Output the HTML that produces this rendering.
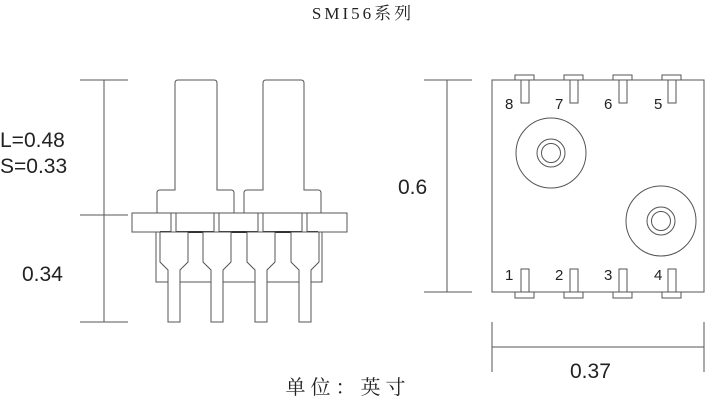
<!DOCTYPE html>
<html><head><meta charset="utf-8"><style>
body{margin:0;background:#fff;width:706px;height:401px;overflow:hidden}
svg{display:block}
.t{font-family:"Liberation Sans","DejaVu Sans",sans-serif;fill:#222}
</style></head><body>
<svg width="706" height="401" viewBox="0 0 706 401" xmlns="http://www.w3.org/2000/svg">
<g stroke="#555" stroke-width="1" fill="none">
<line x1="104" y1="80" x2="104" y2="322"/>
<line x1="80" y1="80" x2="128" y2="80"/>
<line x1="80" y1="215" x2="128" y2="215"/>
<line x1="80" y1="322" x2="128" y2="322"/>
<path d="M157,214 V193 Q157,190 160,190 H175 V83 Q175,80 178,80 H214 Q217,80 217,83 V190 H231 Q234,190 234,193 V214"/>
<path d="M244,214 V193 Q244,190 247,190 H263 V83 Q263,80 266,80 H301 Q304,80 304,83 V190 H318 Q321,190 321,193 V214"/>
<rect x="132" y="213" width="215" height="19" fill="#fff"/>
<rect x="156" y="232" width="166" height="50"/>
<line x1="160" y1="232" x2="318" y2="232" stroke="#333" stroke-width="2"/>
</g>
<g stroke="#555" fill="#fff">
<g id="p">
<rect x="171" y="213" width="5" height="19"/>
<path d="M160,232 V262 L168,270 V322 H180 V270 L188,262 V232 Z"/>
</g>
<use href="#p" x="43"/><use href="#p" x="87"/><use href="#p" x="131"/>
</g>
<g stroke="#555" fill="none">
<rect x="492" y="80" width="212" height="212"/>
<line x1="447" y1="80" x2="447" y2="292"/>
<line x1="424" y1="80" x2="472" y2="80"/>
<line x1="424" y1="292" x2="472" y2="292"/>
<line x1="492" y1="322" x2="492" y2="372"/>
<line x1="704" y1="322" x2="704" y2="372"/>
<line x1="492" y1="347" x2="704" y2="347"/>
<circle cx="551" cy="153" r="35"/><circle cx="551" cy="153" r="14"/><circle cx="551" cy="153" r="9.5"/>
<circle cx="661" cy="221" r="35"/><circle cx="661" cy="221" r="14"/><circle cx="661" cy="221" r="9.5"/>
</g>
<g stroke="#555" fill="#fff">
<g id="q">
<rect x="515" y="75" width="19" height="5"/><rect x="521" y="80" width="8" height="23"/>
<rect x="515" y="292" width="19" height="6"/><rect x="521" y="269" width="8" height="23"/>
</g>
<use href="#q" x="49"/><use href="#q" x="98"/><use href="#q" x="147"/>
</g>
<g class="t" font-size="15">
<text x="505" y="109">8</text><text x="555" y="109">7</text><text x="604" y="109">6</text><text x="654" y="109">5</text>
<text x="505" y="280">1</text><text x="555" y="280">2</text><text x="604" y="280">3</text><text x="654" y="280">4</text>
</g>
<g class="t" font-size="21">
<text x="0" y="147">L=0.48</text>
<text x="0" y="173">S=0.33</text>
<text x="22" y="281">0.34</text>
<text x="398" y="194">0.6</text>
<text x="570" y="378">0.37</text>
</g>
<text x="363" y="19" text-anchor="middle" font-size="17" letter-spacing="3" font-family="'Liberation Serif','Noto Serif CJK SC',serif" fill="#222">SMI56系列</text>
<text x="348" y="394" text-anchor="middle" font-size="20" letter-spacing="5" font-family="'Liberation Serif','Noto Serif CJK SC',serif" fill="#222">单位：英寸</text>
</svg>
</body></html>
